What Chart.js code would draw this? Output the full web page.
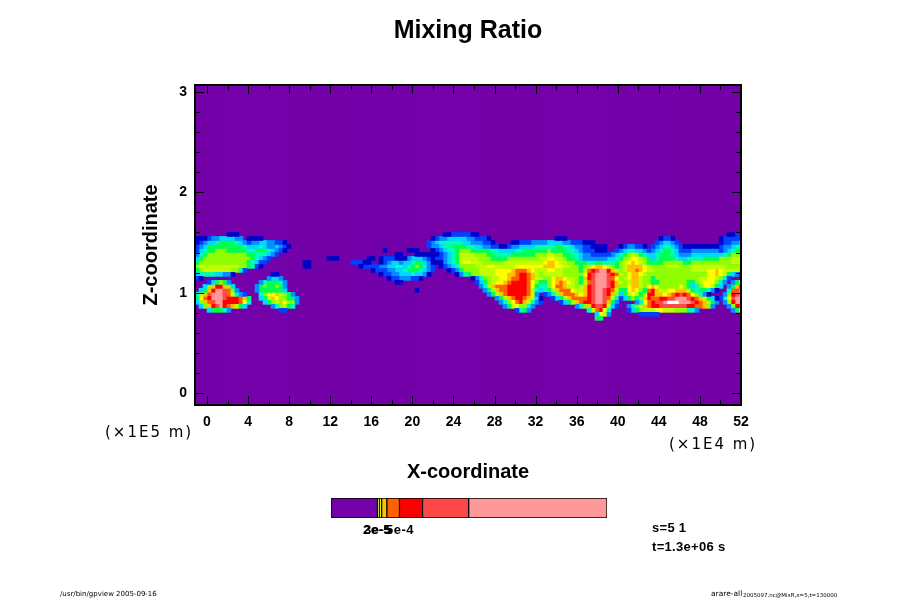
<!DOCTYPE html>
<html>
<head>
<meta charset="utf-8">
<script src="https://cdn.jsdelivr.net/npm/chart.js@4"></script>
<style>
  html, body { margin: 0; padding: 0; background: #fff; }
  #wrap { position: relative; width: 900px; height: 600px; }
  #field { position: absolute; left: 0; top: 0; }
  #key { position: absolute; left: 331px; top: 498px; }
</style>
</head>
<body>
<div id="wrap">
  <canvas id="field" width="900" height="600"></canvas>
  <canvas id="key" width="276" height="20"></canvas>
</div>
<script>
//---------------------------------------------------Data---------------------------------------------------------------------------
const xTicks = [0, 4, 8, 12, 16, 20, 24, 28, 32, 36, 40, 44, 48, 52];
const xMinorTicks = [2, 6, 10, 14, 18, 22, 26, 30, 34, 38, 42, 46, 50];
const zTicks = [0, 1, 2, 3];
const zMinorTicks = [0.2, 0.4, 0.6, 0.8, 1.2, 1.4, 1.6, 1.8, 2.2, 2.4, 2.6, 2.8];

// colour level of the field, 0 is the background, f the highest
const levelCodes = "0123456789abcdef";
const levelColors = [
  "#7300a8", "#0000c8", "#0040ff", "#0090ff", "#00d8ff", "#00ffb0", "#00ff50", "#90ff00",
  "#c0ff00", "#ffff00", "#ffc000", "#ff6000", "#ff0000", "#ff4848", "#ff9898", "#ffffff",
];

// field rows from z=1.6 downwards, each run is "first column:level" and lasts until the next run
const fieldRows = [
  "8:1 11:0 62:1 64:2 69:1 71:0 133:1 135:2",
  "0:1 3:2 4:3 6:4 10:3 12:0 13:1 17:0 59:1 60:2 61:3 63:4 68:3 70:2 73:1 74:0 90:1 93:0 116:1 117:2 119:1 120:0 131:1 132:2",
  "0:1 1:2 2:3 3:4 5:5 6:6 10:5 11:4 12:3 13:2 14:3 16:4 18:3 20:2 22:1 23:0 58:2 59:3 60:4 61:5 67:4 69:3 72:2 74:1 75:0 79:1 81:2 84:3 88:4 92:3 94:2 97:1 100:0 115:2 116:3 117:4 119:3 120:2 121:0 131:1 132:2 134:3 136:4",
  "0:2 1:3 2:4 3:6 12:5 13:4 16:5 17:4 18:3 20:4 21:3 22:2 23:1 24:0 58:2 59:3 61:4 62:5 64:6 68:5 70:4 72:3 74:2 76:1 78:2 79:3 81:4 85:5 90:6 92:5 94:4 95:3 97:2 99:1 103:0 106:1 107:2 108:3 110:2 112:1 113:0 114:2 115:3 116:4 117:5 119:4 120:3 121:2 122:1 130:1 131:2 132:3 134:4 135:5",
  "0:2 1:4 2:5 3:6 5:7 8:6 13:5 15:6 18:5 19:4 20:3 21:2 22:1 23:0 47:1 48:0 53:1 56:0 59:1 60:2 61:3 62:4 63:5 65:6 66:7 69:6 74:5 76:4 80:5 82:6 88:7 89:6 93:5 95:4 96:3 97:2 100:1 103:0 105:2 106:3 107:4 108:5 110:4 112:3 113:2 114:3 115:4 116:5 117:6 119:5 120:4 121:2 124:3 131:2 132:3 133:4 134:5 135:6",
  "0:3 1:5 2:6 3:7 13:6 15:5 18:4 19:3 20:2 21:0 50:1 52:0 55:1 61:2 62:3 63:4 64:5 65:6 66:8 70:7 73:6 75:5 79:6 85:7 88:8 90:7 92:6 94:5 96:4 97:3 99:2 104:3 105:4 106:5 107:6 108:7 109:8 110:7 111:6 112:5 113:4 115:5 116:6 119:5 120:4 121:3 124:4 132:5 133:6 134:7",
  "0:4 1:6 2:7 14:6 15:5 16:4 17:3 18:2 19:0 33:1 36:0 43:1 45:0 46:1 47:2 50:1 53:3 54:4 57:3 58:2 59:1 60:2 62:3 63:4 64:5 65:6 66:8 71:7 74:6 78:7 86:8 88:9 90:8 92:7 93:6 95:5 96:4 97:3 103:4 105:5 106:6 107:7 108:8 109:9 111:8 112:7 113:6 114:4 115:5 116:6 120:5 121:4 123:5 127:6 131:7 134:8",
  "0:6 1:7 13:6 14:5 15:4 16:2 18:0 27:1 29:0 39:2 42:1 44:0 46:1 47:2 48:3 49:4 51:3 52:4 54:5 55:6 57:4 58:3 59:1 62:3 63:4 64:5 65:6 66:8 67:9 69:8 72:7 77:8 87:9 88:a 90:9 91:8 93:7 95:6 98:5 100:6 102:5 105:6 106:7 107:8 108:9 109:a 110:9 111:8 112:7 113:6 117:7 122:6 124:7 134:8",
  "0:7 1:8 11:7 13:6 14:5 15:2 16:1 17:0 27:1 29:0 41:1 42:2 46:3 48:4 50:5 52:4 53:5 54:6 55:7 56:6 57:5 58:3 59:2 60:0 61:1 62:2 63:3 64:4 65:5 66:7 70:8 73:9 75:8 80:9 87:a 90:9 92:8 94:7 96:6 97:7 98:8 99:9 100:a 102:9 103:8 104:7 105:6 106:7 107:8 108:a 112:9 113:8 114:7 118:8 121:7 123:8 133:7",
  "0:6 1:7 2:8 9:7 11:5 12:2 13:0 44:1 45:2 48:3 50:4 52:5 53:6 56:5 57:4 58:3 59:2 60:0 63:1 64:2 65:3 66:6 67:7 71:8 75:9 79:a 80:b 83:a 84:9 85:8 88:9 90:8 92:7 96:6 97:8 98:b 99:c 100:d 101:e 103:c 104:a 105:8 106:7 107:8 108:a 110:b 111:a 112:9 113:8 115:7 124:8 128:9 130:a 131:9 132:8 136:7",
  "0:4 1:5 5:4 7:3 9:1 10:0 19:1 21:0 46:1 47:2 49:3 51:4 54:5 55:4 57:3 58:1 59:0 65:1 66:3 67:5 68:6 69:7 71:8 75:9 78:a 80:b 81:c 83:b 84:a 85:8 86:7 87:8 92:7 97:9 98:c 99:d 100:e 103:d 104:c 105:b 106:8 107:7 108:9 109:a 111:9 112:8 113:7 128:9 130:a 131:9 132:8 133:6 134:4 135:3 136:2",
  "0:2 1:1 2:0 18:3 19:4 21:3 22:0 48:1 49:2 51:3 54:2 56:1 57:0 69:1 70:3 71:5 72:7 74:8 76:9 78:a 79:b 81:c 83:b 84:a 85:8 87:7 89:9 90:a 92:9 93:8 95:7 96:6 97:a 98:c 99:d 100:e 103:d 104:b 105:9 106:7 107:8 108:9 109:a 111:8 112:7 114:6 115:7 126:8 128:9 130:8 131:7 132:5 133:2 134:0",
  "3:2 4:4 5:6 6:7 7:6 8:3 9:0 16:3 17:5 18:6 21:5 22:3 23:0 50:1 52:0 70:2 71:4 72:6 73:7 74:8 75:9 77:a 78:b 79:c 83:b 84:9 85:7 86:6 88:7 89:9 90:a 91:b 92:a 93:9 94:8 95:7 96:6 97:8 98:b 99:d 100:e 103:d 104:c 105:a 106:8 107:7 108:8 109:a 111:8 112:7 114:6 116:7 123:6 125:7 126:8 127:9 130:7 131:5 132:3 133:0 134:3 135:6 136:8",
  "2:4 3:7 4:a 5:c 7:a 8:7 9:4 10:0 15:3 16:6 17:7 18:6 20:7 21:6 22:3 23:0 71:3 72:5 73:8 74:a 75:b 78:c 83:b 84:9 85:6 86:5 88:7 89:9 90:b 92:a 93:8 95:7 96:8 97:a 98:c 99:d 100:e 103:d 104:c 105:a 106:7 108:9 109:a 111:8 112:7 113:9 114:a 115:9 116:7 121:9 122:7 123:6 124:4 125:5 126:7 127:9 129:8 130:6 131:4 132:0 133:3 134:6 135:a 136:c",
  "1:4 2:6 3:a 4:c 5:e 7:d 8:b 9:7 10:3 11:0 15:3 16:6 22:4 23:0 55:1 56:0 72:3 73:6 74:8 75:a 76:b 78:c 83:b 84:8 85:5 86:4 87:5 88:6 89:8 90:a 91:b 94:9 95:8 97:a 98:c 99:d 100:e 102:d 103:c 104:b 105:8 106:6 108:9 109:a 110:9 111:7 112:6 113:b 114:c 115:a 116:8 118:9 120:a 123:8 124:6 125:5 126:6 128:5 129:3 130:1 131:0 133:5 134:b 135:d 136:e",
  "0:5 1:8 2:a 3:d 4:e 7:d 8:b 9:8 10:5 11:3 12:2 13:0 16:5 17:7 18:9 20:a 21:8 22:7 23:6 24:3 25:0 73:3 74:6 75:8 76:a 77:b 78:c 83:b 84:8 85:3 86:0 87:2 88:3 89:5 90:7 91:a 92:b 95:a 96:9 97:a 98:c 99:d 100:e 102:d 103:c 104:a 105:7 106:4 107:6 108:8 109:9 110:8 111:6 112:8 113:c 115:a 117:9 118:a 119:b 120:c 121:d 122:c 123:b 124:9 125:7 126:5 127:3 128:1 129:0 132:3 133:7 134:c 135:d 136:e",
  "0:6 1:9 2:b 3:c 4:e 7:d 8:c 11:b 12:a 13:6 14:0 16:4 17:6 18:8 19:a 20:9 21:7 23:6 25:3 26:0 75:3 76:6 77:8 78:a 79:b 80:c 82:b 83:a 84:8 85:4 86:1 87:0 89:2 90:4 91:6 92:8 93:a 94:b 98:c 99:d 100:e 102:d 103:b 104:8 105:5 106:2 107:4 108:6 109:7 110:6 111:7 112:a 113:c 114:b 116:c 118:d 120:e 123:d 124:c 125:b 126:a 127:8 128:6 129:4 130:1 131:2 132:5 133:9 134:d 135:e",
  "0:4 1:7 2:a 3:b 4:d 5:e 7:c 11:b 12:9 13:5 14:0 17:4 18:6 19:7 20:8 21:a 22:9 23:7 25:3 26:0 76:3 77:5 78:7 79:9 80:b 81:c 82:a 83:8 84:5 85:3 86:2 87:0 91:2 92:4 93:6 94:8 95:a 96:b 97:c 99:d 100:e 102:d 103:a 104:6 105:3 106:0 110:3 111:5 112:9 113:b 114:c 115:d 117:e 118:f 121:e 124:d 125:c 126:b 127:a 128:8 129:6 130:3 131:0 132:3 133:7 134:c 135:e",
  "1:4 2:7 3:a 4:c 5:d 6:e 7:c 8:b 9:a 10:8 11:6 12:4 13:0 19:3 20:5 21:7 22:8 23:6 24:5 25:0 77:3 78:6 79:8 80:9 81:7 83:5 84:3 85:0 95:3 96:5 97:7 98:a 99:c 100:d 102:c 103:8 104:4 105:2 106:0 108:3 109:5 110:7 111:8 112:a 113:b 114:c 116:d 123:c 125:b 127:a 128:7 129:3 130:0 133:3 134:7 135:c 136:d",
  "3:4 4:6 7:5 8:3 9:0 21:2 23:0 80:2 81:5 82:6 83:3 84:0 98:5 99:8 100:b 101:c 102:9 103:5 104:0 108:2 109:4 110:6 111:7 112:8 115:9 117:8 120:7 123:5 125:3 126:0 134:3 135:6 136:9",
  "100:4 101:9 102:8 103:3 104:0 111:2 116:0",
  "100:6 102:0",
];

// colour key: widths of the stripes and their colours
const keyWidths = [46.3, 2, 2.2, 5.2, 12.6, 23, 46, 138];
const keyColors = ["#7300a8", "#c0ff00", "#ffff00", "#ffc000", "#ff6000", "#ff0000", "#ff4848", "#ff9898"];

//---------------------------------------------------Axis ranges and field grid------------------------------------------------------
const xMin = -1.17, xMax = 52;
const zMin = -0.12, zMax = 3.07;
const columnCount = 137;
const xStep = 0.3895, zStep = 0.0398, zFieldTop = 1.6;

function columnCentre(col) {
  return xMin + (col + 0.5) * xStep;
}

// one floating bar per cell of the given level
function cellsForLevel(level) {
  const cells = [];
  fieldRows.forEach((row, r) => {
    const runs = row.split(" ").map((run) => run.split(":"));
    runs.forEach((run, i) => {
      if (levelCodes.indexOf(run[1]) !== level) return;
      const first = Number(run[0]);
      const end = i + 1 < runs.length ? Number(runs[i + 1][0]) : columnCount;
      for (let col = first; col < end; col++) {
        cells.push({
          x: columnCentre(col),
          y: [zFieldTop - (r + 1) * zStep, zFieldTop - r * zStep],
        });
      }
    });
  });
  return cells;
}

const background = [];
for (let col = 0; col < columnCount; col++) {
  background.push({ x: columnCentre(col), y: [zMin, zMax] });
}

// the background has to be painted first, so it gets the highest order
const datasets = [{ label: "level 0", data: background, backgroundColor: levelColors[0], order: 99 }];
for (let level = 1; level < levelColors.length; level++) {
  datasets.push({
    label: "level " + level,
    data: cellsForLevel(level),
    backgroundColor: levelColors[level],
    order: 1,
  });
}

//---------------------------------------------------Ticks, frame and free text------------------------------------------------------
const framePlugin = {
  id: "frame",
  afterDatasetsDraw(chart) {
    const ctx = chart.ctx;
    const a = chart.chartArea;
    const x = chart.scales.x;
    const y = chart.scales.y;
    ctx.save();
    ctx.strokeStyle = "#000";
    ctx.lineWidth = 1;
    ctx.beginPath();
    const xMark = (v, len) => {
      const p = Math.round(x.getPixelForValue(v)) + 0.5;
      ctx.moveTo(p, a.bottom);
      ctx.lineTo(p, a.bottom - len);
      ctx.moveTo(p, a.top);
      ctx.lineTo(p, a.top + len);
    };
    const zMark = (v, len) => {
      const p = Math.round(y.getPixelForValue(v)) + 0.5;
      ctx.moveTo(a.left, p);
      ctx.lineTo(a.left + len, p);
      ctx.moveTo(a.right, p);
      ctx.lineTo(a.right - len, p);
    };
    xTicks.forEach((v) => xMark(v, 9));
    xMinorTicks.forEach((v) => xMark(v, 5));
    zTicks.forEach((v) => zMark(v, 9));
    zMinorTicks.forEach((v) => zMark(v, 5));
    ctx.stroke();
    ctx.lineWidth = 2;
    ctx.strokeRect(a.left, a.top, a.right - a.left, a.bottom - a.top);
    ctx.restore();
  },
  afterDraw(chart) {
    const ctx = chart.ctx;
    ctx.save();
    ctx.fillStyle = "#000";
    ctx.textBaseline = "middle";
    const text = (str, x, y, font, spacing) => {
      ctx.font = font;
      ctx.letterSpacing = spacing || "0px";
      ctx.fillText(str, x, y);
    };
    text("(×1E5 m)", 105, 433, "15px 'DejaVu Sans'", "2px");
    text("(×1E4 m)", 669, 445, "15px 'DejaVu Sans'", "2px");
    text("2e-5", 363, 530, "bold 13px 'Liberation Sans'", "0.5px");
    text("3e-5", 364, 530, "bold 13px 'Liberation Sans'", "0.5px");
    text("5e-4", 386, 530, "bold 13px 'Liberation Sans'", "0.5px");
    text("s=5 1", 652, 528, "bold 13px 'Liberation Sans'", "0.3px");
    text("t=1.3e+06 s", 652, 547, "bold 13px 'Liberation Sans'", "0.3px");
    text("/usr/bin/gpview 2005-09-16", 60, 594, "7px 'DejaVu Sans'");
    text("arare-all", 711, 594, "7.5px 'DejaVu Sans'");
    text("2005097.nc@MixR,x=5,t=130000", 743, 596, "5.5px 'DejaVu Sans'");
    ctx.restore();
  },
};

//---------------------------------------------------Field chart------------------------------------------------------
new Chart(document.getElementById("field").getContext("2d"), {
  type: "bar",
  data: { datasets: datasets },
  plugins: [framePlugin],
  options: {
    responsive: false,
    animation: false,
    layout: { padding: { right: 159 } },
    datasets: { bar: { grouped: false, barThickness: 4, borderWidth: 0 } },
    scales: {
      x: {
        type: "linear",
        offset: false,
        min: xMin,
        max: xMax,
        afterBuildTicks: (axis) => { axis.ticks = xTicks.map((v) => ({ value: v })); },
        afterFit: (axis) => { axis.height = 195; },
        grid: { display: false, drawTicks: false },
        border: { display: false },
        ticks: {
          autoSkip: false,
          maxRotation: 0,
          padding: 9,
          color: "#000",
          font: { family: "Liberation Sans", weight: "bold", size: 14 },
        },
        title: {
          display: true,
          text: "X-coordinate",
          color: "#000",
          font: { family: "Liberation Sans", weight: "bold", size: 20 },
          padding: { top: 0, bottom: 116 },
        },
      },
      y: {
        type: "linear",
        min: zMin,
        max: zMax,
        afterBuildTicks: (axis) => { axis.ticks = zTicks.map((v) => ({ value: v })); },
        afterFit: (axis) => { axis.width = 195; },
        grid: { display: false, drawTicks: false },
        border: { display: false },
        ticks: {
          autoSkip: false,
          padding: 8,
          color: "#000",
          font: { family: "Liberation Sans", weight: "bold", size: 14 },
        },
        title: {
          display: true,
          text: "Z-coordinate",
          color: "#000",
          font: { family: "Liberation Sans", weight: "bold", size: 20 },
          padding: { top: 139, bottom: 0 },
        },
      },
    },
    plugins: {
      legend: { display: false },
      tooltip: { enabled: false },
      title: {
        display: true,
        fullSize: false,
        text: "Mixing Ratio",
        color: "#000",
        font: { family: "Liberation Sans", weight: "bold", size: 25 },
        padding: { top: 16, bottom: 39 },
      },
    },
  },
});

//---------------------------------------------------Colour key------------------------------------------------------
new Chart(document.getElementById("key").getContext("2d"), {
  type: "bar",
  data: {
    labels: ["key"],
    datasets: keyWidths.map((width, i) => ({
      data: [width],
      backgroundColor: keyColors[i],
      borderColor: "#000",
      borderWidth: 1,
      borderSkipped: false,
      barPercentage: 1,
      categoryPercentage: 1,
    })),
  },
  options: {
    responsive: false,
    animation: false,
    indexAxis: "y",
    scales: {
      x: { display: false, stacked: true, min: 0, max: 275.3 },
      y: { display: false, stacked: true },
    },
    plugins: { legend: { display: false }, tooltip: { enabled: false } },
  },
});
</script>
</body>
</html>
